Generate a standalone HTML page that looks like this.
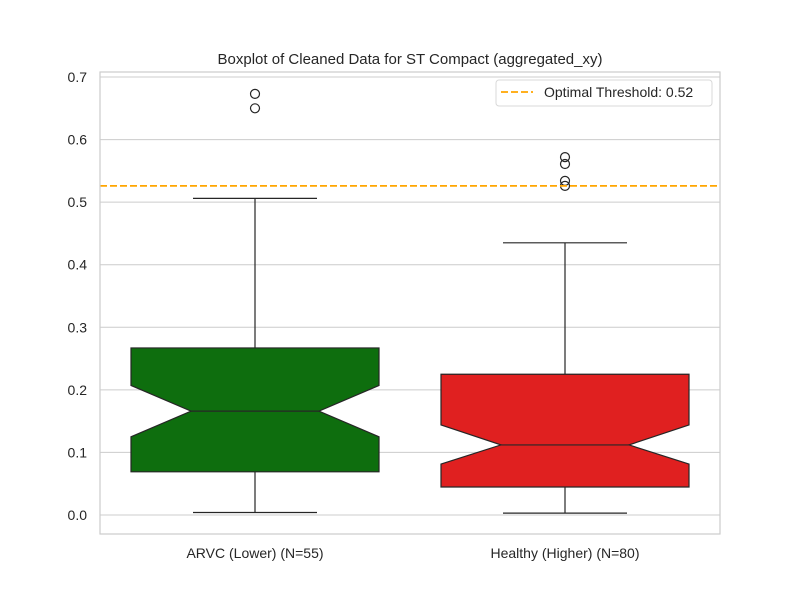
<!DOCTYPE html>
<html><head><meta charset="utf-8"><style>
body{margin:0;background:#fff;font-family:"Liberation Sans","DejaVu Sans",sans-serif}
svg text{font-family:"Liberation Sans","DejaVu Sans",sans-serif;fill:#262626}
</style></head><body>
<svg id="c" width="800" height="600"></svg>
<script>
const categories=["ARVC (Lower) (N=55)","Healthy (Higher) (N=80)"];
const colors=["#0e6e0e","#e02020"];
const whiskerLow=[0.004,0.003];
const q1=[0.069,0.0447];
const median=[0.166,0.112];
const q3=[0.267,0.225];
const whiskerHigh=[0.506,0.435];
const notchLow=[0.125,0.0815];
const notchHigh=[0.207,0.144];
const outliers=[[0.650,0.673],[0.526,0.534,0.561,0.572]];
const yTicks=[0,0.1,0.2,0.3,0.4,0.5,0.6,0.7];
const yTickLabels=["0.0","0.1","0.2","0.3","0.4","0.5","0.6","0.7"];
const threshold=0.526;

const NS="http://www.w3.org/2000/svg";
const svg=document.getElementById('c');
const L=100,R=720,T=72,B=534;
const y=v=>515-v*625.7;
const xc=i=>255+i*310;
const bw=124,nw=64;
function el(t,a,p){const e=document.createElementNS(NS,t);for(const k in a)e.setAttribute(k,a[k]);(p||svg).appendChild(e);return e;}
const grid=el('g',{});


yTicks.forEach((v,i)=>{
  const g=el('line',{x1:L,x2:R,y1:y(v),y2:y(v),stroke:'#cccccc','stroke-width':1},grid);
  
  
  const t=el('text',{x:L-13,y:y(v)+5,'text-anchor':'end','font-size':14});
  t.textContent=yTickLabels[i];
  
  
});
categories.forEach((c,i)=>{
  const g=el('g',{});
  
  
  const x=xc(i);
  el('line',{x1:x,x2:x,y1:y(whiskerLow[i]),y2:y(q1[i]),stroke:'#262626','stroke-width':1.2},g);
  el('line',{x1:x,x2:x,y1:y(q3[i]),y2:y(whiskerHigh[i]),stroke:'#262626','stroke-width':1.2},g);
  el('line',{x1:x-bw/2,x2:x+bw/2,y1:y(whiskerLow[i]),y2:y(whiskerLow[i]),stroke:'#262626','stroke-width':1.2},g);
  el('line',{x1:x-bw/2,x2:x+bw/2,y1:y(whiskerHigh[i]),y2:y(whiskerHigh[i]),stroke:'#262626','stroke-width':1.2},g);
  const pts=[[x-bw,q1[i]],[x+bw,q1[i]],[x+bw,notchLow[i]],[x+nw,median[i]],[x+bw,notchHigh[i]],[x+bw,q3[i]],[x-bw,q3[i]],[x-bw,notchHigh[i]],[x-nw,median[i]],[x-bw,notchLow[i]]];
  el('polygon',{points:pts.map(p=>p[0]+','+y(p[1])).join(' '),fill:colors[i],stroke:'#262626','stroke-width':1.2},g);
  el('line',{x1:x-nw,x2:x+nw,y1:y(median[i]),y2:y(median[i]),stroke:'#262626','stroke-width':1.2},g);
  outliers[i].forEach(v=>{const o=el('circle',{cx:x,cy:y(v),r:4.5,fill:'none',stroke:'#262626','stroke-width':1.2},g);
    
    });
  const t=el('text',{x:x,y:558,'text-anchor':'middle','font-size':14});
  t.textContent=c;
  
  
});
const th=el('line',{x1:L,x2:R,y1:y(threshold),y2:y(threshold),stroke:'#ffa500','stroke-width':1.8,'stroke-dasharray':'7,3'});


const fr=el('rect',{x:L,y:T,width:R-L,height:B-T,fill:'none',stroke:'#cccccc','stroke-width':1.2});


const lg=el('g',{});


el('rect',{x:496,y:80,width:216,height:26,rx:3,fill:'#fff',stroke:'#d8d8d8'},lg);
el('line',{x1:501,x2:533,y1:92,y2:92,stroke:'#ffa500','stroke-width':1.8,'stroke-dasharray':'7,3'},lg);
const lt=el('text',{x:544,y:97,'font-size':14},lg);lt.textContent="Optimal Threshold: 0.52";
const ti=el('text',{x:410,y:64,'text-anchor':'middle','font-size':15});
ti.textContent="Boxplot of Cleaned Data for ST Compact (aggregated_xy)";


</script>
</body></html>
